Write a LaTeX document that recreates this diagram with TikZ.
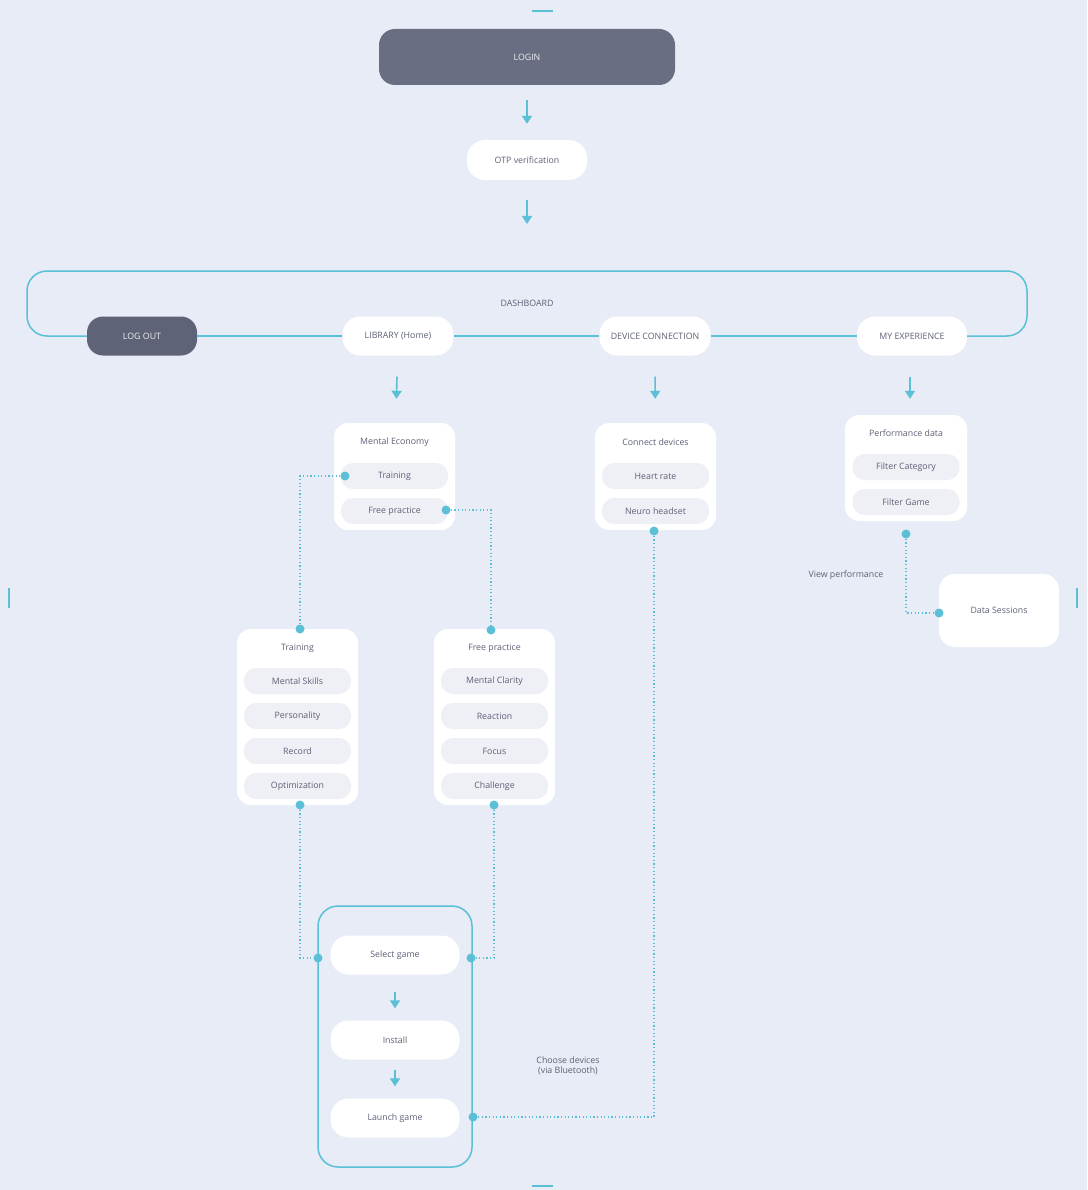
\documentclass[tikz,border=0pt]{standalone}
\usepackage{fontspec}
\setmainfont{Open Sans}
\usetikzlibrary{arrows.meta}
\definecolor{bgc}{HTML}{E8ECF6}
\definecolor{cyanline}{HTML}{5BBFD6}
\definecolor{darkbox}{HTML}{6A6E82}
\definecolor{darkbtn}{HTML}{5F6378}
\definecolor{txt}{HTML}{5C6176}
\definecolor{pillc}{HTML}{EFEFF6}

\begin{document}
\begin{tikzpicture}[x=1pt, y=-1pt,
    every node/.style={font=\fontsize{8.8}{10.5}\selectfont, text=txt, inner sep=0pt},
    darkpill/.style={fill=darkbtn, text=white!90!darkbtn, rounded corners=16, minimum height=40},
    pill/.style={fill=white, rounded corners=18, minimum height=40},
    card/.style={fill=white, rounded corners=14, minimum width=121},
    item/.style={fill=pillc, rounded corners=12, minimum width=107, minimum height=26},
    flow/.style={draw=cyanline, line width=1.6, -{Triangle[width=10pt,length=8pt]}},
    frame/.style={draw=cyanline, line width=1.5},
    dots/.style={draw=cyanline, line width=1.2, dash pattern=on 1.2pt off 2.4pt},
    dot/.style={circle, fill=cyanline, minimum size=9}]

    \fill[bgc] (0,0) rectangle (1087,1190);

    % edge marks
    \draw[cyanline, line width=2] (532,11) -- (553,11);
    \draw[cyanline, line width=2] (532,1186) -- (553,1186);
    \draw[cyanline, line width=2] (9,588) -- (9,608);
    \draw[cyanline, line width=2] (1077,588) -- (1077,608);

    \node[darkpill, fill=darkbox, minimum width=296, minimum height=56] (login) at (527,57) {LOGIN};
    \node[pill, minimum width=120] (otp) at (527,160) {OTP verification};
    \coordinate (dtop) at (527,271);

    \draw[flow, shorten <=15, shorten >=16] (login) -- (otp);
    \draw[flow, shorten <=20, shorten >=47] (otp) -- (dtop);

    % dashboard
    \node (dash) at (527,303) {DASHBOARD};
    \node[darkpill, minimum width=110, minimum height=39] (logout) at (142,336) {LOG OUT};
    \node[pill, minimum width=111, minimum height=39] (library) at (398,336) {LIBRARY (Home)};
    \node[pill, minimum width=111, minimum height=39] (device) at (655,336) {DEVICE CONNECTION};
    \node[pill, minimum width=110, minimum height=39] (myexp) at (912,336) {MY EXPERIENCE};
    \coordinate (fl) at (27,336);
    \coordinate (fr) at (1027,336);

    \draw[frame, rounded corners=20] (logout.west) -- (fl) -- (27,271) -- (1027,271) -- (fr) -- (myexp.east);
    \draw[frame] (logout) -- (library) -- (device) -- (myexp);

    % cards
    \node[card, minimum height=107] (econ) at (394.5,476.5) {};
    \node (econt) at (394.5,442) {Mental Economy};
    \node[item] (etrain) at (394.5,476) {Training};
    \node[item] (efree) at (394.5,511) {Free practice};

    \node[card, minimum height=107] (conn) at (655.5,476.5) {};
    \node (connt) at (655.5,442) {Connect devices};
    \node[item] (heart) at (655.5,476) {Heart rate};
    \node[item] (neuro) at (655.5,511) {Neuro headset};

    \node[card, minimum width=122, minimum height=106] (perf) at (906,468) {};
    \node (perft) at (906,433) {Performance data};
    \node[item] (fcat) at (906,467) {Filter Category};
    \node[item] (fgame) at (906,502) {Filter Game};

    \draw[flow, shorten <=21, shorten >=24] (library) -- (econ);
    \draw[flow, shorten <=21, shorten >=24] (device) -- (conn);
    \draw[flow, shorten <=21, shorten >=16] (myexp.south -| 910,0) -- (perf.north -| 910,0);

    \node[fill=white, rounded corners=16, minimum width=120, minimum height=73] (sess) at (999,610.5) {Data Sessions};
    \node (viewp) at (846,575) {View performance};

    \node[card, minimum height=176] (train) at (297.5,717) {};
    \node (traint) at (297.5,648) {Training};
    \node[item] (skills) at (297.5,681) {Mental Skills};
    \node[item] (person) at (297.5,716) {Personality};
    \node[item] (record) at (297.5,751) {Record};
    \node[item] (optim) at (297.5,786) {Optimization};

    \node[card, minimum height=176] (free) at (494.5,717) {};
    \node (freet) at (494.5,648) {Free practice};
    \node[item] (clarity) at (494.5,681) {Mental Clarity};
    \node[item] (react) at (494.5,716) {Reaction};
    \node[item] (focus) at (494.5,751) {Focus};
    \node[item] (chall) at (494.5,786) {Challenge};

    % game
    \node[draw=cyanline, line width=1.5, rounded corners=20, minimum width=154, minimum height=261] (game) at (395,1036.5) {};
    \node[pill, minimum width=129, minimum height=39] (select) at (395,955) {Select game};
    \node[pill, minimum width=129, minimum height=39] (install) at (395,1040) {Install};
    \node[pill, minimum width=129, minimum height=39] (launch) at (395,1118) {Launch game};
    \draw[flow, shorten <=17, shorten >=12] (select) -- (install);
    \draw[flow, shorten <=10, shorten >=12] (install) -- (launch);
    \node[align=center] (choose) at (568,1066) {Choose devices\\(via Bluetooth)};

    % dotted links
    \node[dot] (dtrain) at (345,476) {};
    \node[dot] (dtraintop) at (300,629) {};
    \node[dot] (dfree) at (446,510) {};
    \node[dot] (dfreetop) at (491,630) {};
    \node[dot] (dtrainbot) at (300,805) {};
    \node[dot] (dfreebot) at (494,805) {};
    \node[dot] (dsell) at (318,958) {};
    \node[dot] (dselr) at (471,958) {};
    \node[dot] (dneuro) at (654,531) {};
    \node[dot] (dlaunch) at (473,1117) {};
    \node[dot] (dperf) at (906,534) {};
    \node[dot] (dsess) at (939,613) {};

    \draw[dots] (dtrain) -| (dtraintop);
    \draw[dots] (dfree) -| (dfreetop);
    \draw[dots] (dtrainbot) |- (dsell);
    \draw[dots] (dfreebot) |- (dselr);
    \draw[dots] (dneuro) |- (dlaunch);
    \draw[dots] (dperf) |- (dsess);

\end{tikzpicture}
\end{document}
